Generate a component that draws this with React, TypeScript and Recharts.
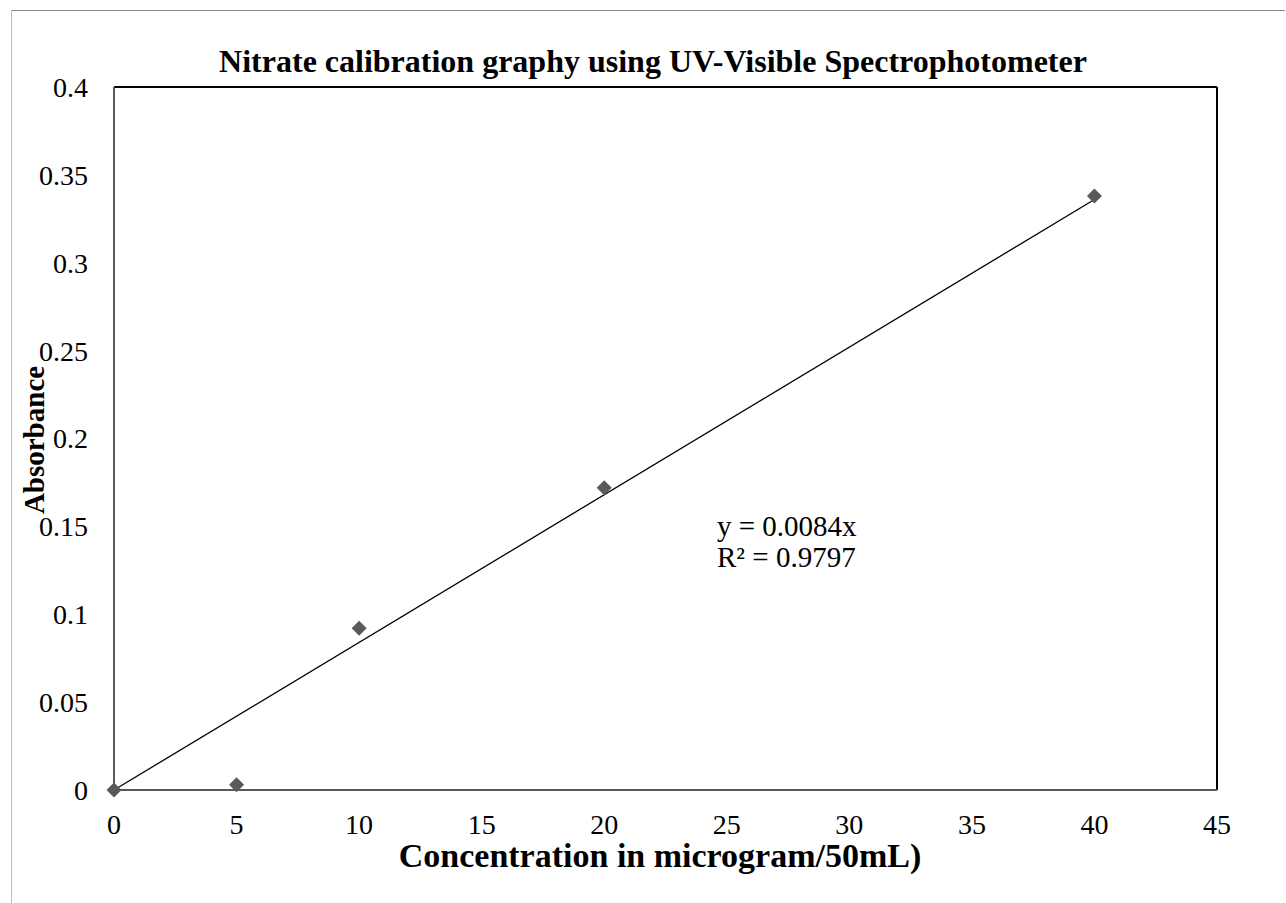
import React from "react";
import {
  ScatterChart,
  Scatter,
  XAxis,
  YAxis,
  ReferenceLine,
  Customized,
} from "recharts";

const concentrations = [0, 5, 10, 20, 40];
const absorbances = [0, 0.003, 0.092, 0.172, 0.338];
const slope = 0.0084;
const trendXs = [0, 40];
const xTicks = [0, 5, 10, 15, 20, 25, 30, 35, 40, 45];
const yTicks = [0, 0.05, 0.1, 0.15, 0.2, 0.25, 0.3, 0.35, 0.4];

const points = concentrations.map((x, i) => ({ x, y: absorbances[i] }));
const trend = trendXs.map((x) => ({ x, y: slope * x }));

const FONT = "'Liberation Serif', 'Times New Roman', serif";

const Diamond = (props: any) => {
  const { cx, cy } = props;
  if (cx == null || cy == null) return null;
  const r = 7.5;
  return (
    <polygon
      points={`${cx},${cy - r} ${cx + r},${cy} ${cx},${cy + r} ${cx - r},${cy}`}
      fill="#595959"
    />
  );
};

const NoShape = () => null;

const Texts = () => (
  <g fontFamily={FONT} fill="#000">
    <text x={653} y={72} textAnchor="middle" fontSize={32} fontWeight="bold">
      Nitrate calibration graphy using UV-Visible Spectrophotometer
    </text>
    <text
      x={44}
      y={440}
      textAnchor="middle"
      fontSize={29}
      fontWeight="bold"
      transform="rotate(-90, 44, 440)"
    >
      Absorbance
    </text>
    <text x={660} y={867} textAnchor="middle" fontSize={34} fontWeight="bold">
      Concentration in microgram/50mL)
    </text>
    <text x={717} y={536} fontSize={29}>
      y = 0.0084x
    </text>
    <text x={717} y={567} fontSize={29}>
      R² = 0.9797
    </text>
  </g>
);

export default function App() {
  return (
    <div style={{ position: "absolute", left: 0, top: 0, width: 1286, height: 903, background: "#fff" }}>
      <div
        style={{
          position: "absolute",
          left: 11,
          top: 10,
          width: 1274,
          height: 893,
          borderTop: "1.5px solid #8c8c8c",
          borderLeft: "1.5px solid #bdbdbd",
          boxSizing: "border-box",
        }}
      />
      <ScatterChart
        width={1286}
        height={903}
        margin={{ top: 87, right: 69, bottom: 0, left: 0 }}
        style={{ position: "absolute", left: 0, top: 0 }}
      >
        <XAxis
          type="number"
          dataKey="x"
          domain={[0, 45]}
          ticks={xTicks}
          interval={0}
          height={113}
          tickLine={false}
          tickSize={0}
          tickMargin={24}
          axisLine={{ stroke: "#595959", strokeWidth: 2 }}
          tick={{ fill: "#000", fontSize: 28, fontFamily: FONT }}
        />
        <YAxis
          type="number"
          dataKey="y"
          domain={[0, 0.4]}
          ticks={yTicks}
          interval={0}
          width={114}
          tickLine={false}
          tickSize={0}
          tickMargin={26}
          axisLine={{ stroke: "#595959", strokeWidth: 2 }}
          tick={{ fill: "#000", fontSize: 28, fontFamily: FONT }}
        />
        <ReferenceLine y={0.4} stroke="#000" strokeWidth={2} />
        <ReferenceLine x={45} stroke="#000" strokeWidth={2} />
        <Scatter
          data={trend}
          line={{ stroke: "#000", strokeWidth: 1.3 }}
          shape={NoShape}
          isAnimationActive={false}
        />
        <Scatter data={points} shape={Diamond} isAnimationActive={false} />
        <Customized component={Texts} />
      </ScatterChart>
    </div>
  );
}
